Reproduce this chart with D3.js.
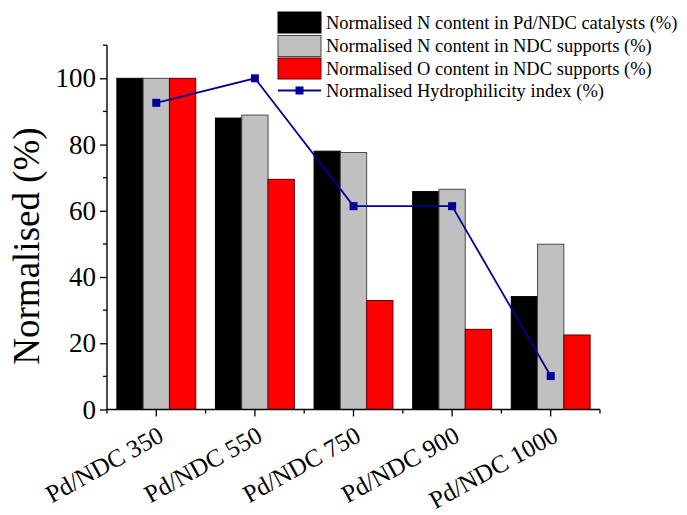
<!DOCTYPE html>
<html>
<head>
<meta charset="utf-8">
<script src="https://cdn.jsdelivr.net/npm/d3@7"></script>
<style>
  html, body { margin: 0; padding: 0; background: #fff; }
  svg { display: block; font-family: "Liberation Serif", "Times New Roman", serif; }
</style>
</head>
<body>
<svg id="chart" width="687" height="515"></svg>
<script>
// Samples along the x axis
const categories = ["Pd/NDC 350", "Pd/NDC 550", "Pd/NDC 750", "Pd/NDC 900", "Pd/NDC 1000"];

// Bar series (normalised, %)
const nCatalysts = [100, 88.0, 78.0, 65.8, 34.1];
const nSupports  = [100, 88.9, 77.6, 66.5, 49.9];
const oSupports  = [100, 69.5, 32.9, 24.2, 22.5];

// Line series (normalised, %)
const hydrophilicity = [92.6, 100, 61.4, 61.4, 10.1];

const seriesNames = [
  "Normalised N content in Pd/NDC catalysts (%)",
  "Normalised N content in NDC supports (%)",
  "Normalised O content in NDC supports (%)",
  "Normalised Hydrophilicity index (%)"
];

const yTicks = [0, 20, 40, 60, 80, 100];

const barSeries = [
  { name: seriesNames[0], values: nCatalysts, fill: "#000000", stroke: "#000000" },
  { name: seriesNames[1], values: nSupports,  fill: "#c0c0c0", stroke: "#4a4a4a" },
  { name: seriesNames[2], values: oSupports,  fill: "#ff0000", stroke: "#5a0000" }
];
const lineColor = "#000099";

const svg = d3.select("#chart");

const plot = { left: 107, right: 600, top: 45.2, bottom: 409.5 };

const x = d3.scaleBand().domain(categories).range([plot.left, plot.right]).padding(0);
const groupWidth = x.bandwidth() * 0.8;
const xSub = d3.scaleBand()
  .domain(d3.range(barSeries.length))
  .range([-groupWidth / 2, groupWidth / 2])
  .padding(0);

const y = d3.scaleLinear().domain([0, 110]).range([plot.bottom, plot.top]);

// Bars
barSeries.forEach((s, si) => {
  svg.append("g")
    .selectAll("rect")
    .data(s.values)
    .join("rect")
    .attr("x", (d, i) => x(categories[i]) + x.bandwidth() / 2 + xSub(si))
    .attr("y", d => y(d))
    .attr("width", xSub.bandwidth())
    .attr("height", d => y(0) - y(d))
    .attr("fill", s.fill)
    .attr("stroke", s.stroke)
    .attr("stroke-width", 1);
});

// Hydrophilicity line with square markers
const cx = (d, i) => x(categories[i]) + x.bandwidth() / 2;
svg.append("path")
  .datum(hydrophilicity)
  .attr("fill", "none")
  .attr("stroke", lineColor)
  .attr("stroke-width", 1.8)
  .attr("d", d3.line().x(cx).y(d => y(d)));

const mk = 8;
svg.append("g")
  .selectAll("rect")
  .data(hydrophilicity)
  .join("rect")
  .attr("x", (d, i) => cx(d, i) - mk / 2)
  .attr("y", d => y(d) - mk / 2)
  .attr("width", mk)
  .attr("height", mk)
  .attr("fill", lineColor);

// Y axis: labelled major ticks every 20, minor ticks between
const yAxis = svg.append("g").attr("transform", `translate(${plot.left},0)`);
yAxis.call(d3.axisLeft(y).tickValues(yTicks).tickSize(7).tickPadding(4).tickFormat(d3.format("d")));
yAxis.selectAll(".tick text")
  .attr("font-size", 27)
  .attr("font-family", "Liberation Serif, Times New Roman, serif")
  .attr("fill", "#000");
yAxis.select(".domain").remove();
yAxis.selectAll(".tick line").attr("stroke-width", 1.3);
yAxis.append("g")
  .selectAll("line")
  .data(d3.range(10, 111, 20))
  .join("line")
  .attr("x1", -4).attr("x2", 0)
  .attr("y1", d => y(d)).attr("y2", d => y(d))
  .attr("stroke", "#000").attr("stroke-width", 1.3);
yAxis.append("line")
  .attr("x1", 0).attr("x2", 0)
  .attr("y1", y(110)).attr("y2", y(0))
  .attr("stroke", "#000").attr("stroke-width", 1.4);

// X axis: major ticks at sample centres, minor ticks at band edges
const xAxis = svg.append("g").attr("transform", `translate(0,${plot.bottom})`);
xAxis.append("line")
  .attr("x1", plot.left).attr("x2", plot.right)
  .attr("y1", 0).attr("y2", 0)
  .attr("stroke", "#000").attr("stroke-width", 1.4);
xAxis.append("g")
  .selectAll("line")
  .data(categories)
  .join("line")
  .attr("x1", d => x(d) + x.bandwidth() / 2).attr("x2", d => x(d) + x.bandwidth() / 2)
  .attr("y1", 0).attr("y2", 7)
  .attr("stroke", "#000").attr("stroke-width", 1.3);
xAxis.append("g")
  .selectAll("line")
  .data(categories.map(c => x(c)).concat([plot.right]))
  .join("line")
  .attr("x1", d => d).attr("x2", d => d)
  .attr("y1", 0).attr("y2", 4)
  .attr("stroke", "#000").attr("stroke-width", 1.3);
xAxis.append("g")
  .selectAll("text")
  .data(categories)
  .join("text")
  .attr("transform", d => `translate(${x(d) + x.bandwidth() / 2 + 9},${31}) rotate(-29)`)
  .attr("text-anchor", "end")
  .attr("font-size", 25)
  .attr("fill", "#000")
  .text(d => d);

// Y axis title
svg.append("text")
  .attr("transform", `translate(39,246) rotate(-90)`)
  .attr("text-anchor", "middle")
  .attr("font-size", 37)
  .attr("fill", "#000")
  .text("Normalised (%)");

// Legend
const legend = svg.append("g");
const lgX = 278, swW = 43, swH = 21, txtX = 326;
const rowY = [22.5, 46, 68.5, 90.5];
barSeries.forEach((s, i) => {
  legend.append("rect")
    .attr("x", lgX).attr("y", rowY[i] - swH / 2)
    .attr("width", swW).attr("height", swH)
    .attr("fill", s.fill).attr("stroke", s.stroke).attr("stroke-width", 1);
  legend.append("text")
    .attr("x", txtX).attr("y", rowY[i])
    .attr("dy", "0.35em")
    .attr("font-size", 18.5)
    .attr("fill", "#000")
    .text(s.name);
});
legend.append("line")
  .attr("x1", lgX).attr("x2", lgX + swW)
  .attr("y1", rowY[3]).attr("y2", rowY[3])
  .attr("stroke", lineColor).attr("stroke-width", 1.8);
legend.append("rect")
  .attr("x", lgX + swW / 2 - mk / 2).attr("y", rowY[3] - mk / 2)
  .attr("width", mk).attr("height", mk)
  .attr("fill", lineColor);
legend.append("text")
  .attr("x", txtX).attr("y", rowY[3])
  .attr("dy", "0.35em")
  .attr("font-size", 18.5)
  .attr("fill", "#000")
  .text(seriesNames[3]);
</script>
</body>
</html>
